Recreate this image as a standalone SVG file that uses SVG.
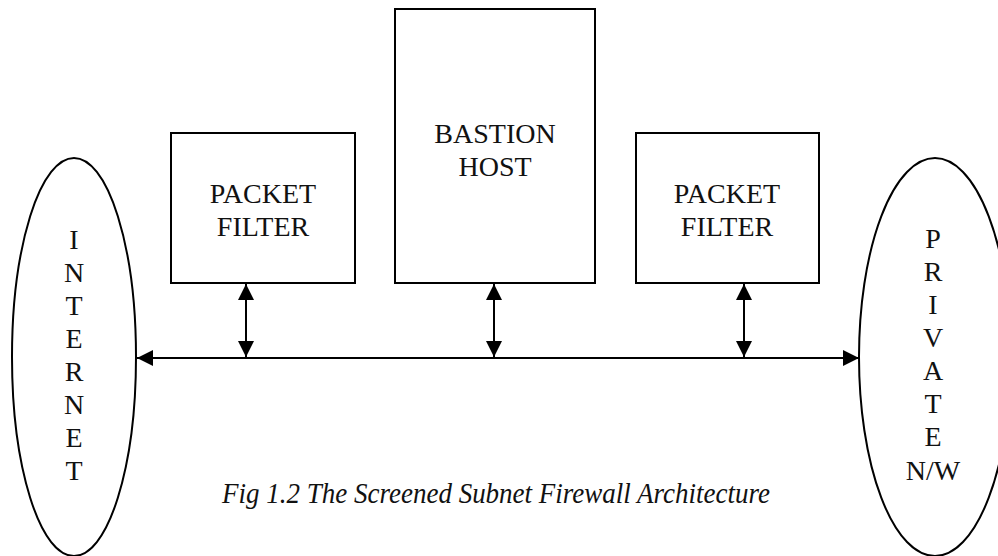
<svg xmlns="http://www.w3.org/2000/svg" width="998" height="556" viewBox="0 0 998 556">
<style>
.shape{fill:none;stroke:#000;stroke-width:2}
.box{fill:#fff;stroke:#000;stroke-width:2}
.con{stroke:#000;stroke-width:2;fill:none}
</style>
<defs>
<marker id="ah" viewBox="0 0 10 10" refX="10" refY="5" markerWidth="16" markerHeight="16" markerUnits="userSpaceOnUse" orient="auto-start-reverse">
<path d="M0,0 L10,5 L0,10 Z" fill="#000"/>
</marker>
</defs>
<rect width="998" height="556" fill="#fff"/>
<g id="internet">
<ellipse class="shape" cx="74" cy="357" rx="62" ry="199"/>
<text x="74" y="249" font-family="Liberation Serif" font-size="28" fill="#111" text-anchor="middle">I</text>
<text x="74" y="282" font-family="Liberation Serif" font-size="28" fill="#111" text-anchor="middle">N</text>
<text x="74" y="315" font-family="Liberation Serif" font-size="28" fill="#111" text-anchor="middle">T</text>
<text x="74" y="348" font-family="Liberation Serif" font-size="28" fill="#111" text-anchor="middle">E</text>
<text x="74" y="381" font-family="Liberation Serif" font-size="28" fill="#111" text-anchor="middle">R</text>
<text x="74" y="414" font-family="Liberation Serif" font-size="28" fill="#111" text-anchor="middle">N</text>
<text x="74" y="447" font-family="Liberation Serif" font-size="28" fill="#111" text-anchor="middle">E</text>
<text x="74" y="480" font-family="Liberation Serif" font-size="28" fill="#111" text-anchor="middle">T</text>
</g>
<g id="private">
<ellipse class="shape" cx="935" cy="357" rx="76" ry="199"/>
<text x="933" y="248" font-family="Liberation Serif" font-size="28" fill="#111" text-anchor="middle">P</text>
<text x="933" y="281" font-family="Liberation Serif" font-size="28" fill="#111" text-anchor="middle">R</text>
<text x="933" y="314" font-family="Liberation Serif" font-size="28" fill="#111" text-anchor="middle">I</text>
<text x="933" y="347" font-family="Liberation Serif" font-size="28" fill="#111" text-anchor="middle">V</text>
<text x="933" y="380" font-family="Liberation Serif" font-size="28" fill="#111" text-anchor="middle">A</text>
<text x="933" y="413" font-family="Liberation Serif" font-size="28" fill="#111" text-anchor="middle">T</text>
<text x="933" y="446" font-family="Liberation Serif" font-size="28" fill="#111" text-anchor="middle">E</text>
<text x="933" y="480" font-family="Liberation Serif" font-size="28" fill="#111" text-anchor="middle">N/W</text>
</g>
<g id="pf1">
<rect class="box" x="171" y="133" width="184" height="150"/>
<text x="263" y="203" font-family="Liberation Serif" font-size="28" fill="#111" text-anchor="middle">PACKET</text>
<text x="263" y="236" font-family="Liberation Serif" font-size="28" fill="#111" text-anchor="middle">FILTER</text>
</g>
<g id="bastion">
<rect class="box" x="395" y="9" width="200" height="274"/>
<text x="495" y="143" font-family="Liberation Serif" font-size="28" fill="#111" text-anchor="middle">BASTION</text>
<text x="495" y="176" font-family="Liberation Serif" font-size="28" fill="#111" text-anchor="middle">HOST</text>
</g>
<g id="pf2">
<rect class="box" x="636" y="133" width="183" height="150"/>
<text x="727" y="203" font-family="Liberation Serif" font-size="28" fill="#111" text-anchor="middle">PACKET</text>
<text x="727" y="236" font-family="Liberation Serif" font-size="28" fill="#111" text-anchor="middle">FILTER</text>
</g>
<g id="connectors">
<line class="con" x1="137" y1="358" x2="859" y2="358" marker-start="url(#ah)" marker-end="url(#ah)"/>
<line class="con" x1="246" y1="284" x2="246" y2="357" marker-start="url(#ah)" marker-end="url(#ah)"/>
<line class="con" x1="494" y1="284" x2="494" y2="357" marker-start="url(#ah)" marker-end="url(#ah)"/>
<line class="con" x1="744" y1="284" x2="744" y2="357" marker-start="url(#ah)" marker-end="url(#ah)"/>
</g>
<text x="222" y="503" font-family="Liberation Serif" font-size="30" font-style="italic" fill="#111" textLength="548" lengthAdjust="spacingAndGlyphs">Fig 1.2 The Screened Subnet Firewall Architecture</text>
</svg>
